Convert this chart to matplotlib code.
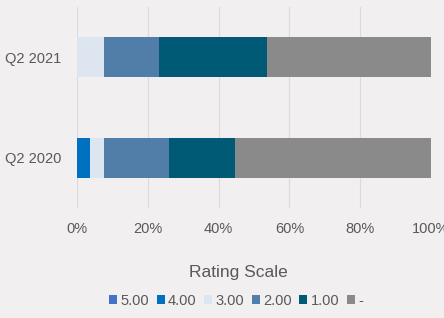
import numpy as np
import matplotlib.pyplot as plt

plt.rcParams['font.family'] = ['Liberation Sans', 'DejaVu Sans']

# Share of responses per rating, stacked horizontally to 100%
periods = ["Q2 2020", "Q2 2021"]
ratings = ["5.00", "4.00", "3.00", "2.00", "1.00", "-"]
share_5 = [0.0, 0.0]
share_4 = [3.6, 0.0]
share_3 = [4.0, 7.6]
share_2 = [18.4, 15.5]
share_1 = [18.5, 30.6]
share_na = [55.5, 46.3]

colors = ["#4472c4", "#0070c0", "#dde6f0", "#517ea9", "#005a76", "#8a8a8a"]
bg = "#f1eff0"

series = [share_5, share_4, share_3, share_2, share_1, share_na]

fig = plt.figure(figsize=(4.44, 3.18), dpi=100, facecolor=bg)
ax = fig.add_axes([77 / 444, 1 - 208 / 318, 354 / 444, 201 / 318], facecolor=bg)

y = np.arange(len(periods))
left = np.zeros(len(periods))
for name, vals, c in zip(ratings, series, colors):
    ax.barh(y, vals, left=left, height=0.4, color=c, label=name, zorder=3)
    left += np.array(vals)

ax.set_xlim(0, 100)
ax.set_ylim(-0.5, 1.5)
ax.set_yticks(y)
ax.set_yticklabels(periods)
ax.set_xticks(np.arange(0, 101, 20))
ax.set_xticklabels([f"{v}%" for v in range(0, 101, 20)])
ax.tick_params(length=0, labelsize=10.5, labelcolor="#595959")
ax.tick_params(axis="x", pad=10)
ax.tick_params(axis="y", pad=11)
ax.grid(axis="x", color="#dcdadb", linewidth=0.8, zorder=0)
for s in ax.spines.values():
    s.set_visible(False)

fig.text(238 / 444, 1 - 273 / 318, "Rating Scale", ha="center", va="center",
         fontsize=12.5, color="#595959")
fig.legend(loc="center", bbox_to_anchor=(236 / 444, 1 - 301 / 318), ncol=6,
           frameon=False, fontsize=10.5, handlelength=0.55, handleheight=0.55,
           handletextpad=0.2, columnspacing=0.55, labelcolor="#595959")

fig.savefig("out.png", dpi=100, facecolor=bg)
